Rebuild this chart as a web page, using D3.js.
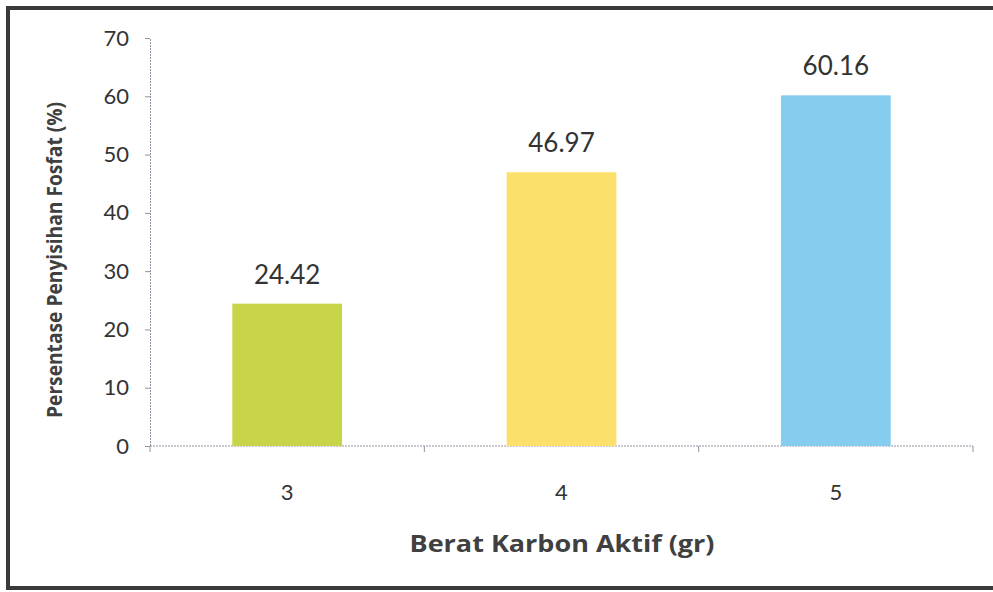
<!DOCTYPE html>
<html>
<head>
<meta charset="utf-8">
<script src="https://cdn.jsdelivr.net/npm/d3@7"></script>
<style>
  body { margin: 0; background: #fff; }
</style>
</head>
<body>
<div id="bar-chart"></div>
<script>
const categories = ["3", "4", "5"];
const values = [24.42, 46.97, 60.16];
const valueLabels = ["24.42", "46.97", "60.16"];
const barColors = ["#c8d44a", "#fbe06c", "#84cdef"];
const yTicks = [0, 10, 20, 30, 40, 50, 60, 70];

const width = 993;
const height = 592;
const margin = {top: 38, right: 20, bottom: 146, left: 150};
const innerWidth = 973 - margin.left;
const innerHeight = 446 - margin.top;

const svg = d3.select("#bar-chart")
    .append("svg")
    .attr("width", width)
    .attr("height", height);

// scanned frame: left, top and bottom edges
svg.append("path")
    .attr("d", `M${width},8 H8 V588 H${width}`)
    .attr("fill", "none")
    .attr("stroke", "#3a3a3a")
    .attr("stroke-width", 4);

const innerChart = svg.append("g")
    .attr("transform", `translate(${margin.left},${margin.top})`);

const xScale = d3.scaleBand()
    .domain(categories)
    .range([0, innerWidth])
    .paddingInner(0.6)
    .paddingOuter(0.3);

const yScale = d3.scaleLinear()
    .domain([0, 70])
    .range([innerHeight, 0]);

const axisColor = "#9b8fa3";

// y axis
const yAxis = d3.axisLeft(yScale).tickValues(yTicks).tickSize(5).tickPadding(16);
const yG = innerChart.append("g").call(yAxis);
yG.select(".domain").attr("stroke", axisColor).attr("stroke-dasharray", "2,1");
yG.selectAll(".tick line").attr("stroke", axisColor);
yG.selectAll(".tick text")
    .attr("font-family", "Lato, 'Open Sans', sans-serif")
    .attr("font-size", 22)
    .attr("fill", "#333");

// x axis: ticks on the band edges
const edges = d3.range(categories.length + 1).map(i => i * innerWidth / categories.length);
const xG = innerChart.append("g").attr("transform", `translate(0,${innerHeight})`);
xG.append("line")
    .attr("x1", 0).attr("x2", innerWidth)
    .attr("stroke", axisColor)
    .attr("stroke-dasharray", "2,1");
xG.selectAll(".edge")
    .data(edges)
    .join("line")
    .attr("class", "edge")
    .attr("x1", d => d).attr("x2", d => d)
    .attr("y1", 0).attr("y2", 6)
    .attr("stroke", axisColor);
xG.selectAll(".xlabel")
    .data(categories)
    .join("text")
    .attr("class", "xlabel")
    .attr("x", d => xScale(d) + xScale.bandwidth() / 2)
    .attr("y", 54)
    .attr("text-anchor", "middle")
    .attr("font-family", "Lato, 'Open Sans', sans-serif")
    .attr("font-size", 22)
    .attr("fill", "#333")
    .text(d => d);

// bars
innerChart.selectAll("rect.bar")
    .data(values)
    .join("rect")
    .attr("class", "bar")
    .attr("x", (d, i) => xScale(categories[i]))
    .attr("y", d => yScale(d))
    .attr("width", xScale.bandwidth())
    .attr("height", d => innerHeight - yScale(d))
    .attr("fill", (d, i) => barColors[i]);

// value labels
innerChart.selectAll("text.value")
    .data(values)
    .join("text")
    .attr("class", "value")
    .attr("x", (d, i) => xScale(categories[i]) + xScale.bandwidth() / 2)
    .attr("y", d => yScale(d) - 20)
    .attr("text-anchor", "middle")
    .attr("font-family", "Lato, 'Open Sans', sans-serif")
    .attr("font-size", 26)
    .attr("fill", "#333")
    .text((d, i) => valueLabels[i]);

// axis titles
svg.append("text")
    .attr("x", 562)
    .attr("y", 552)
    .attr("text-anchor", "middle")
    .attr("font-family", "'Open Sans', sans-serif")
    .attr("font-weight", "bold")
    .attr("font-size", 24)
    .attr("fill", "#404040")
    .attr("textLength", 305)
    .attr("lengthAdjust", "spacingAndGlyphs")
    .text("Berat Karbon Aktif (gr)");

svg.append("text")
    .attr("transform", "translate(62,260) rotate(-90)")
    .attr("text-anchor", "middle")
    .attr("font-family", "'Open Sans', sans-serif")
    .attr("font-weight", "bold")
    .attr("font-size", 22)
    .attr("fill", "#404040")
    .attr("textLength", 316)
    .attr("lengthAdjust", "spacingAndGlyphs")
    .text("Persentase Penyisihan Fosfat (%)");
</script>
</body>
</html>
